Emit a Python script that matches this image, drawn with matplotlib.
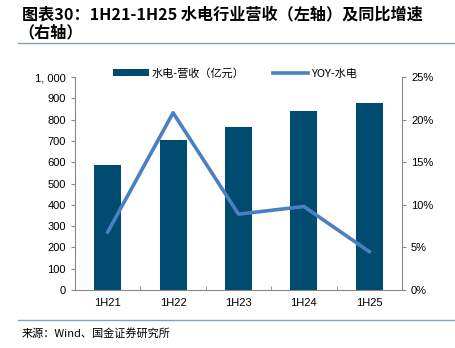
import matplotlib.pyplot as plt
from matplotlib.ticker import FuncFormatter, PercentFormatter
import numpy as np

plt.rcParams['font.family'] = ['Liberation Sans', 'Noto Sans CJK SC', 'DejaVu Sans']

periods = ['1H21', '1H22', '1H23', '1H24', '1H25']
revenue = [587, 704, 765, 840, 879]        # 亿元
yoy = [6.8, 20.8, 8.9, 9.8, 4.5]          # %

bar_color = '#004B70'
line_color = '#4A80C2'
cjk = ['Noto Sans CJK SC', 'DejaVu Sans']

fig = plt.figure(figsize=(4.56, 3.48), dpi=100)
ax = fig.add_axes([75 / 456, 1 - 290 / 348, 327 / 456, 213 / 348])
x = np.arange(len(periods))
bars = ax.bar(x, revenue, width=0.41, color=bar_color, label='水电-营收（亿元）', zorder=2)
ax.set_xlim(-0.5, len(periods) - 0.5)
ax.set_ylim(0, 1000)
ax.set_yticks(range(0, 1001, 100))
ax.yaxis.set_major_formatter(FuncFormatter(lambda v, p: f'{int(v):,}'.replace(',', ', ')))
ax.set_xticks(x)
ax.set_xticklabels(periods)
ax.set_xticks(np.arange(-0.5, len(periods)), minor=True)
ax.tick_params(axis='x', which='major', length=0, pad=6)
ax.tick_params(axis='x', which='minor', length=3, direction='in', color='#888888')
ax.tick_params(axis='y', length=3, color='#888888')
ax.tick_params(labelsize=8)
for s in ['top', 'right']:
    ax.spines[s].set_visible(False)
for s in ['left', 'bottom']:
    ax.spines[s].set_color('#888888')

ax2 = ax.twinx()
ax2.plot(x, yoy, color=line_color, lw=2.6, label='YOY-水电', zorder=3)
ax2.set_ylim(0, 25)
ax2.yaxis.set_major_formatter(PercentFormatter(decimals=0))
ax2.tick_params(axis='y', length=3, color='#888888', labelsize=8)
for s in ['top', 'left', 'bottom']:
    ax2.spines[s].set_visible(False)
ax2.spines['right'].set_color('#888888')

h1, l1 = ax.get_legend_handles_labels()
h2, l2 = ax2.get_legend_handles_labels()
ax2.legend(h1 + h2, l1 + l2, loc='upper center', bbox_to_anchor=(0.49, 1.09), ncol=2,
           frameon=False, prop={'family': cjk, 'size': 8}, handlelength=3.2,
           handleheight=0.5, columnspacing=2.5, handletextpad=0.3)

fig.text(22 / 456, 1 - 14 / 348, '图表30：1H21-1H25 水电行业营收（左轴）及同比增速', fontsize=11.6,
         fontweight='bold', style='italic', family=cjk, va='center')
fig.text(18 / 456, 1 - 32 / 348, '（右轴）', fontsize=11.6, fontweight='bold', style='italic',
         family=cjk, va='center')
fig.add_artist(plt.Line2D([18 / 456, 1], [1 - 43 / 348] * 2, color='#8AA0B0', lw=1))
fig.add_artist(plt.Line2D([18 / 456, 1], [1 - 320 / 348] * 2, color='#7AA6B8', lw=1))
fig.text(22 / 456, 1 - 333 / 348, '来源：Wind、国金证券研究所', fontsize=8, family=cjk, va='center')

fig.savefig('out.png', dpi=100)
